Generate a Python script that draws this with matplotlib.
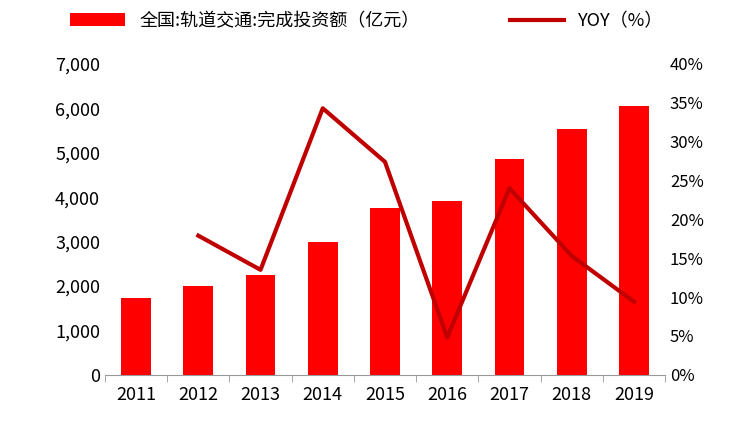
import matplotlib
matplotlib.use("Agg")
import matplotlib.pyplot as plt
from matplotlib.ticker import FuncFormatter

plt.rcParams['font.family'] = ['Noto Sans CJK SC', 'DejaVu Sans']

years = ['2011','2012','2013','2014','2015','2016','2017','2018','2019']
invest = [1730, 2000, 2250, 3000, 3760, 3920, 4860, 5540, 6060]
yoy_years = years[1:]
yoy = [17.9, 13.5, 34.3, 27.4, 4.8, 24.0, 15.3, 9.4]

fig = plt.figure(figsize=(7.34, 4.21), dpi=100)
ax = fig.add_axes([0.143, 0.11, 0.763, 0.738])
x = list(range(len(years)))
ax.bar(x, invest, width=0.48, color='#FF0000', label='全国:轨道交通:完成投资额（亿元）', zorder=2)
ax.set_ylim(0, 7000)
ax.set_xlim(-0.5, len(years) - 0.5)
ax.set_yticks(range(0, 7001, 1000))
ax.yaxis.set_major_formatter(FuncFormatter(lambda v, p: f'{int(v):,}'))
ax.set_xticks(x)
ax.set_xticklabels(years)
ax.set_xticks([i - 0.5 for i in range(len(years) + 1)], minor=True)
ax.tick_params(axis='x', which='major', length=0, labelsize=13, pad=8)
ax.tick_params(axis='x', which='minor', length=5, color='#999999')
ax.tick_params(axis='y', length=0, labelsize=13)
for s in ['top', 'right', 'left']:
    ax.spines[s].set_visible(False)
ax.spines['bottom'].set_color('#999999')

ax2 = ax.twinx()
ax2.plot([years.index(y) for y in yoy_years], yoy, color='#C00000', lw=3, label='YOY（%）', zorder=3)
ax2.set_ylim(0, 40)
ax2.set_yticks(range(0, 41, 5))
ax2.yaxis.set_major_formatter(FuncFormatter(lambda v, p: f'{int(v)}%'))
ax2.tick_params(axis='y', length=0, labelsize=12)
for s in ['top', 'right', 'left', 'bottom']:
    ax2.spines[s].set_visible(False)

h1, l1 = ax.get_legend_handles_labels()
h2, l2 = ax2.get_legend_handles_labels()
fig.legend(h1 + h2, l1 + l2, loc='upper center', bbox_to_anchor=(0.5, 1.01), ncol=2,
           frameon=False, fontsize=13, columnspacing=5, handlelength=3)

fig.savefig('out.png', dpi=100)
